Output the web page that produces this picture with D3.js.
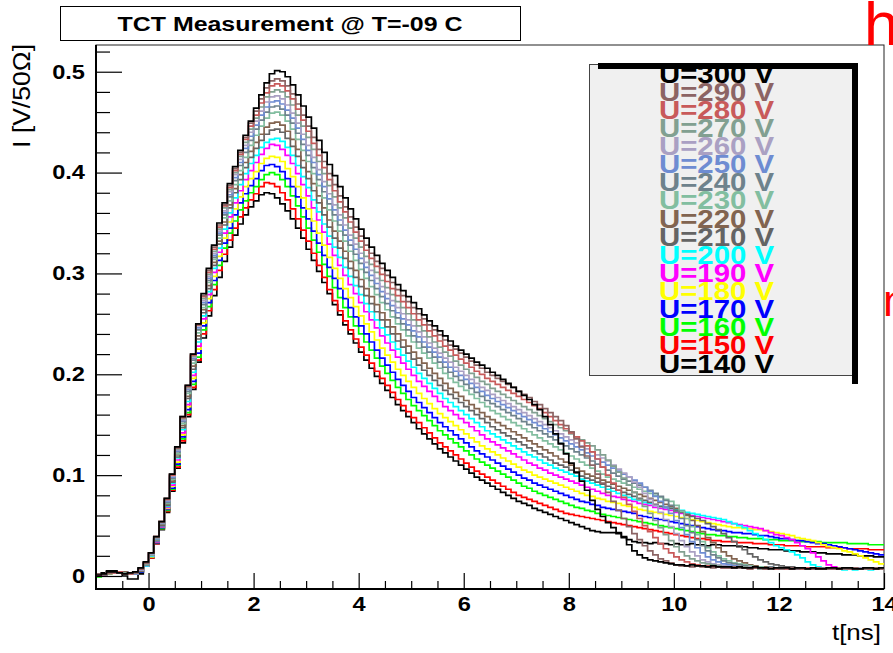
<!DOCTYPE html>
<html><head><meta charset="utf-8">
<script src="https://cdn.jsdelivr.net/npm/d3@7"></script>
<style>body{margin:0;background:#fff}svg{display:block}</style>
</head><body>
<svg id="c" width="893" height="653"></svg>
<script>
// histogram bins: start -1 ns, width 0.1 ns, values in mV
const binStart = -1, binWidth = 0.1, tEnd = 14;
const voltages = [300,290,280,270,260,250,240,230,220,210,200,190,180,170,160,150,140];
const legendLabels = ["U=300 V","U=290 V","U=280 V","U=270 V","U=260 V","U=250 V","U=240 V","U=230 V","U=220 V","U=210 V","U=200 V","U=190 V","U=180 V","U=170 V","U=160 V","U=150 V","U=140 V"];
const colors = ["#000000","#8c6464","#c85a5a","#82a091","#aaa0c3","#6e8cd2","#6e828c","#82bea0","#826450","#646464","#00ffff","#ff00ff","#ffff00","#0000ff","#00ff00","#ff0000","#000000"];
const xTicks = [0,2,4,6,8,10,12,14];
const xMinor = [-0.5,0.5,1,1.5,2.5,3,3.5,4.5,5,5.5,6.5,7,7.5,8.5,9,9.5,10.5,11,11.5,12.5,13,13.5];
const yTicks = [0,0.1,0.2,0.3,0.4,0.5];
const yMinor = [0.02,0.04,0.06,0.08,0.12,0.14,0.16,0.18,0.22,0.24,0.26,0.28,0.32,0.34,0.36,0.38,0.42,0.44,0.46,0.48,0.52];

const u300 = [1,2,4,4,3,2,3,4,8,14,
23,39,54,77,101,128,158,189,220,250,
280,305,328,350,370,389,406,422,437,451,
464,477,489,498,501,500,495,487,477,466,
455,444,432,420,408,397,386,375,364,354,
344,335,326,318,310,303,296,289,283,277,
271,265,259,253,248,243,238,233,228,224,
220,216,212,209,206,202,199,195,191,187,
183,179,175,170,165,158,150,141,131,121,
112,103,94,85,75,66,59,53,48,43,
38,31,25,21,18,16,15,14,13,12,
11,11,10,11,10,10,9,10,9,9,
9,8,9,8,8,9,8,8,7,8,
8,8,7,8,8,7,8,7,7,8,
8,7,8,8,7,7,8,8,7,8];
const u290 = [2,1,3,4,3,2,3,3,7,13,
23,39,54,77,101,127,158,189,220,250,
278,303,326,348,368,387,404,420,435,449,
461,473,484,491,493,491,486,478,468,457,
446,435,423,411,399,388,377,366,356,346,
337,328,320,312,305,298,291,284,278,272,
266,260,255,249,244,239,234,229,225,221,
217,213,209,206,202,199,196,193,190,187,
183,180,177,173,170,166,162,158,154,149,
143,136,128,119,110,101,92,83,74,65,
57,49,42,36,30,25,21,17,15,13,
11,10,10,9,10,9,9,8,9,8,
8,9,8,8,7,8,8,7,8,8,
7,8,8,7,8,7,7,8,7,7,
7,8,7,7,8,7,7,7,8,7];
const u280 = [1,2,3,3,4,2,2,4,7,13,
23,39,54,76,100,127,157,188,219,249,
277,301,324,346,367,385,402,418,433,446,
457,469,479,486,488,486,481,473,463,452,
441,429,417,405,393,382,371,361,351,341,
332,323,315,307,299,292,285,278,272,266,
260,254,249,243,238,233,228,224,219,215,
211,207,203,200,196,193,190,187,184,181,
178,175,172,169,166,162,158,154,150,146,
142,138,134,129,123,116,108,100,92,85,
78,71,64,57,50,44,38,32,27,23,
19,16,14,12,11,10,10,9,9,8,
8,8,9,8,7,8,8,7,8,7,
8,7,7,8,7,8,7,7,7,8,
7,7,8,7,7,7,8,7,7,7];
const u270 = [2,2,3,4,3,3,2,3,7,12,
23,38,54,76,100,126,156,187,218,249,
275,299,322,344,365,383,400,416,430,443,
454,465,475,480,482,480,475,467,457,446,
435,423,411,399,387,376,365,355,345,335,
326,317,309,301,293,286,279,272,266,260,
254,248,243,237,232,227,222,218,213,209,
205,201,197,193,190,186,183,180,177,174,
171,168,165,162,159,156,153,150,147,144,
141,138,135,132,129,125,120,115,109,103,
97,90,83,76,69,62,55,48,41,35,
29,24,20,17,15,13,12,11,10,9,
9,8,8,9,8,8,7,8,8,7,
7,8,7,8,7,7,8,7,7,7,
8,7,7,7,8,7,7,7,7,8];
const u260 = [1,2,3,3,4,3,2,3,6,12,
22,38,53,75,99,125,155,186,217,248,
273,297,320,342,362,381,398,413,427,440,
451,461,470,475,476,473,467,459,449,438,
427,415,403,391,379,368,358,348,338,329,
320,311,303,295,287,280,273,266,260,254,
248,242,237,231,226,221,216,212,207,203,
199,195,191,187,184,180,177,174,171,168,
165,162,159,156,153,150,147,144,141,138,
135,132,129,126,123,120,117,114,110,106,
102,98,93,88,82,76,70,63,56,49,
42,35,29,24,20,16,14,12,11,10,
9,9,8,8,9,8,7,8,8,7,
8,7,7,8,7,7,8,7,7,7,
7,8,7,7,7,8,7,7,8,7];
const u250 = [2,1,3,4,3,3,3,2,6,12,
22,37,53,74,98,124,154,185,216,246,
271,295,318,340,360,378,395,410,424,436,
447,457,465,470,471,468,462,454,444,433,
422,410,398,386,374,363,353,343,333,324,
315,306,298,290,282,275,268,261,255,249,
243,237,232,227,222,217,212,207,203,199,
195,191,187,183,179,176,173,170,167,164,
161,158,155,152,149,146,143,140,137,134,
131,128,125,122,119,116,113,110,107,104,
101,98,95,92,88,84,79,74,68,62,
55,48,41,34,28,23,19,16,14,12,
11,10,9,9,8,8,8,7,8,8,
7,8,7,7,8,7,7,8,7,7,
7,7,8,7,7,8,7,7,7,8];
const u240 = [1,2,2,3,4,3,2,3,6,11,
22,37,52,73,97,123,153,183,214,244,
269,293,316,338,358,376,392,407,420,432,
443,452,460,465,466,463,457,449,439,428,
417,405,393,381,369,358,348,338,328,319,
310,301,293,285,277,270,263,256,250,244,
238,232,227,222,217,212,207,202,198,194,
190,186,182,178,174,171,168,165,162,159,
156,153,150,147,144,141,138,135,132,129,
126,123,120,117,114,111,108,105,102,99,
96,94,92,90,88,85,82,79,75,70,
64,57,50,43,36,30,25,21,18,15,
13,12,11,10,9,9,8,8,9,8,
7,8,8,7,7,8,7,7,8,7,
7,7,7,8,7,7,7,8,7,7];
const u230 = [2,1,3,3,4,3,3,2,6,11,
21,36,52,72,96,121,151,181,211,241,
266,291,314,335,355,372,388,402,415,427,
437,446,454,459,460,457,451,443,433,422,
411,399,387,375,363,352,342,332,322,313,
304,295,287,279,271,264,257,250,244,238,
232,226,221,216,211,206,201,196,192,188,
184,180,176,172,168,164,161,158,155,152,
149,146,143,140,137,134,131,128,125,122,
119,116,113,110,107,104,101,98,96,94,
92,90,88,86,84,82,80,78,76,74,
70,64,57,49,41,34,28,24,20,17,
15,13,12,11,10,9,9,8,8,8,
8,7,8,7,7,8,7,8,7,7,
7,8,7,7,7,7,8,7,7,7];
const u220 = [1,2,3,3,3,4,2,3,5,11,
21,36,51,71,94,120,149,178,208,238,
264,288,311,332,351,368,384,398,410,421,
430,438,445,449,450,447,441,433,423,412,
401,389,377,365,353,342,332,322,312,303,
294,285,277,269,261,254,247,240,234,228,
222,216,211,206,201,196,191,186,182,178,
174,170,166,162,158,155,152,149,146,143,
140,137,134,131,128,125,122,119,116,113,
110,107,104,101,99,97,95,93,91,89,
87,85,83,81,79,77,75,73,71,69,
67,64,60,55,50,44,38,33,28,24,
20,17,15,13,11,10,9,9,8,8,
8,7,8,7,8,7,7,8,7,7,
7,7,8,7,7,7,8,7,7,7];
const u210 = [2,2,3,3,4,3,3,3,5,11,
21,35,50,70,93,118,147,176,205,235,
261,285,308,329,348,365,380,393,405,415,
424,432,438,442,443,440,434,426,416,405,
394,382,370,358,346,335,325,315,305,296,
287,278,270,262,254,247,240,233,227,221,
215,209,204,199,194,189,184,180,176,172,
168,164,160,156,152,148,145,142,139,136,
133,130,127,124,121,118,115,112,110,108,
105,102,99,97,95,93,91,89,87,85,
83,81,79,77,75,73,71,69,68,67,
65,63,61,59,57,55,52,49,46,42,
38,34,30,26,22,19,16,14,12,11,
10,9,9,8,8,8,7,8,8,7,
7,8,7,7,7,8,7,7,7,8];
const u200 = [1,2,3,3,4,3,2,3,5,10,
20,35,50,69,92,117,145,173,202,232,
258,282,305,325,344,360,375,388,399,409,
417,425,430,433,434,431,425,417,407,396,
385,373,361,349,337,326,316,306,297,288,
279,270,262,254,246,239,232,225,219,213,
207,201,196,191,186,181,176,172,168,164,
160,156,152,148,144,141,138,135,132,129,
126,123,120,118,115,112,110,107,105,103,
101,99,96,94,92,90,88,86,84,82,
80,78,76,75,73,72,70,69,68,67,
66,65,63,62,61,60,59,58,57,56,
54,52,50,48,45,42,39,36,33,30,
28,26,24,21,18,14,11,9,8,7,
7,7,6,7,6,7,7,6,7,7];
const u190 = [2,1,3,4,3,3,3,2,5,10,
20,34,49,68,90,115,142,170,199,228,
255,279,301,321,340,356,370,382,393,402,
410,418,424,428,427,423,417,409,399,388,
377,365,353,341,329,318,308,298,289,280,
271,262,254,246,238,231,224,217,211,205,
199,193,188,183,178,173,168,164,160,156,
152,148,144,140,136,133,130,127,124,121,
118,115,112,110,107,105,102,100,98,96,
94,92,90,88,86,84,82,80,79,78,
76,75,74,72,71,70,68,67,66,65,
63,62,61,60,59,58,57,56,55,54,
53,52,51,50,49,48,47,45,43,41,
40,38,36,33,30,27,23,19,15,11,
9,8,8,7,8,7,8,7,7,8];
const u180 = [1,2,2,3,4,3,3,3,5,10,
19,34,49,67,89,113,140,168,196,225,
251,275,297,317,335,351,364,376,386,394,
401,409,414,416,415,411,404,396,386,375,
364,352,340,328,316,305,295,285,276,267,
258,250,242,234,226,219,212,205,199,193,
187,181,176,171,166,161,157,153,149,145,
141,137,133,129,126,123,120,117,114,111,
108,105,103,100,98,96,94,92,90,88,
86,84,82,80,79,77,76,74,73,72,
70,69,68,66,65,64,63,62,61,60,
59,58,57,56,55,54,53,52,51,50,
49,48,48,47,47,46,46,45,44,43,
42,41,40,38,37,36,35,33,31,29,
28,27,25,24,22,20,18,16,14,12];
const u170 = [2,2,3,3,3,4,2,3,4,10,
19,33,48,66,87,111,138,165,193,221,
248,271,293,313,330,345,358,370,379,387,
394,402,407,408,406,401,394,386,376,365,
354,342,330,318,306,295,285,275,266,257,
248,240,232,224,216,209,202,195,189,183,
177,172,167,162,157,152,148,144,140,136,
132,128,124,121,118,115,112,109,106,103,
100,97,95,92,90,88,86,84,82,80,
78,76,74,73,71,70,68,67,66,65,
64,63,62,60,59,58,57,56,55,54,
53,52,51,50,49,48,47,46,45,45,
44,43,43,42,42,41,40,40,39,38,
37,37,36,35,35,34,33,32,32,31,
30,29,28,27,26,25,24,23,22,21];
const u160 = [-1,1,3,3,4,3,3,2,4,10,
19,33,47,65,86,110,136,162,190,217,
244,267,289,308,325,340,352,363,372,380,
386,393,398,400,398,393,386,377,367,356,
345,333,321,309,297,286,276,266,257,248,
240,232,224,216,208,201,194,187,181,175,
169,164,159,154,149,144,140,136,132,128,
124,120,116,113,110,107,104,101,98,95,
92,89,87,84,82,80,78,76,74,72,
70,68,67,65,64,62,61,60,59,58,
57,56,55,54,53,52,51,50,49,48,
47,46,45,44,43,42,41,41,40,40,
39,39,38,38,37,37,37,36,36,36,
35,35,35,35,34,34,34,34,33,33,
33,33,33,32,32,32,32,31,31,31];
const u150 = [2,1,3,3,4,3,2,3,4,10,
18,32,47,64,85,108,134,160,187,214,
240,263,284,303,319,333,345,356,365,373,
379,386,390,389,386,380,373,364,354,343,
332,320,308,296,284,273,263,253,244,235,
227,219,211,203,196,189,182,175,169,163,
157,152,147,142,137,132,128,124,120,116,
112,108,104,101,98,95,92,89,86,83,
80,78,76,74,72,70,68,66,64,62,
61,60,59,58,57,56,55,54,53,52,
51,50,49,48,47,46,45,44,43,42,
41,40,39,38,37,37,36,35,35,34,
34,34,33,33,33,32,32,32,31,31,
31,30,30,30,30,29,29,29,29,28,
28,28,28,27,27,27,27,26,26,26];
const u140 = [2,3,5,5,4,0,-3,-3,2,10,
18,32,46,63,84,107,132,158,185,212,
236,258,278,296,312,326,338,349,358,366,
372,378,380,379,375,369,362,354,345,335,
324,313,302,291,280,269,259,249,240,231,
222,214,206,198,191,184,177,170,164,158,
152,146,141,136,131,126,122,118,114,110,
106,102,98,95,92,89,86,83,80,77,
74,72,70,67,65,63,61,59,57,55,
53,51,49,47,45,44,43,43,43,42,
39,36,34,33,33,32,33,32,32,31,
32,31,31,32,31,31,30,31,31,30,
30,30,29,29,28,28,27,27,26,26,
26,25,25,25,24,24,24,23,23,22,
22,22,21,21,21,20,20,20,19,19];

const seriesData = [u300,u290,u280,u270,u260,u250,u240,u230,u220,u210,u200,u190,u180,u170,u160,u150,u140];

const FONT = "'Liberation Sans', Arial, Helvetica, sans-serif";
const SX = 1.18; // horizontal stretch of the original picture
const svg = d3.select("#c");

function stretch(sel, f){
  sel.each(function(){
    const w = this.getComputedTextLength();
    d3.select(this).attr("textLength", w*f).attr("lengthAdjust","spacingAndGlyphs");
  });
}

const x = d3.scaleLinear().domain([-1, 14]).range([96, 884]);
const y = d3.scaleLinear().domain([-0.0129, 0.5265]).range([589, 45]);

// frame
svg.append("rect").attr("x",96).attr("y",45).attr("width",788).attr("height",544)
  .attr("fill","#fff").attr("stroke","#222").attr("stroke-width",1);

svg.append("defs").append("clipPath").attr("id","pc").append("rect")
  .attr("x",96).attr("y",45).attr("width",788).attr("height",544);

// curves
const line = d3.line().x(d=>x(d[0])).y(d=>y(d[1])).curve(d3.curveStepAfter);
const gC = svg.append("g").attr("clip-path","url(#pc)");
const order = d3.range(seriesData.length).reverse();
order.forEach(k=>{
  const arr = seriesData[k];
  const pts = arr.map((v,i)=>[binStart + i*binWidth, v/1000]);
  pts.push([tEnd, arr[arr.length-1]/1000]);
  gC.append("path").attr("d", line(pts)).attr("fill","none")
    .attr("stroke", colors[k]).attr("stroke-width", 1.7).attr("stroke-linejoin","miter");
});

// axes
function styleAxis(g){
  g.select(".domain").remove();
  g.selectAll(".tick line").attr("stroke","#000").attr("stroke-width",1.2);
  g.selectAll("text").attr("font-family",FONT).attr("font-size",20).attr("font-weight","bold").attr("fill","#000");
}
const fmtY = d => d===0 ? "0" : d3.format(".1f")(d);
const gy = svg.append("g").attr("transform","translate(96,0)")
  .call(d3.axisLeft(y).tickValues(yTicks).tickSize(-26).tickPadding(11).tickFormat(fmtY));
styleAxis(gy); stretch(gy.selectAll("text"), SX);
const gym = svg.append("g").attr("transform","translate(96,0)")
  .call(d3.axisLeft(y).tickValues(yMinor).tickSize(-14).tickFormat(""));
styleAxis(gym);
const gx = svg.append("g").attr("transform","translate(0,589)")
  .call(d3.axisBottom(x).tickValues(xTicks).tickSize(-16).tickPadding(8).tickFormat(d3.format("d")));
styleAxis(gx); stretch(gx.selectAll("text"), SX);
const gxm = svg.append("g").attr("transform","translate(0,589)")
  .call(d3.axisBottom(x).tickValues(xMinor).tickSize(-8).tickFormat(""));
styleAxis(gxm);

svg.append("line").attr("x1",96).attr("x2",96).attr("y1",45).attr("y2",590).attr("stroke","#000").attr("stroke-width",2);
svg.append("line").attr("x1",95).attr("x2",884).attr("y1",589).attr("y2",589).attr("stroke","#000").attr("stroke-width",2);

// axis titles
svg.append("text").attr("transform","translate(30,44) rotate(-90)").attr("text-anchor","end")
  .attr("font-family",FONT).attr("font-size",23).attr("fill","#000")
  .attr("textLength",104).attr("lengthAdjust","spacingAndGlyphs").text("I [V/50\u03A9]");
const xt = svg.append("text").attr("x",881).attr("y",640).attr("text-anchor","end")
  .attr("font-family",FONT).attr("font-size",22).attr("fill","#000").text("t[ns]");
stretch(xt, SX);

// title box
svg.append("rect").attr("x",60.5).attr("y",6.5).attr("width",460).attr("height",34)
  .attr("fill","#fff").attr("stroke","#000").attr("stroke-width",1);
svg.append("text").attr("x",290).attr("y",31).attr("text-anchor","middle")
  .attr("font-family",FONT).attr("font-size",20).attr("font-weight","bold").attr("fill","#000")
  .attr("textLength",345).attr("lengthAdjust","spacingAndGlyphs")
  .text("TCT Measurement @ T=-09 C");

// legend
const lg = svg.append("g");
lg.append("rect").attr("x",589.5).attr("y",64.5).attr("width",263).attr("height",311)
  .attr("fill","#f0f0f0").attr("stroke","#444").attr("stroke-width",1);
legendLabels.forEach((lab,k)=>{
  const t = lg.append("text").attr("x",716.5).attr("y",82.5 + k*18.125).attr("text-anchor","middle")
    .attr("font-family",FONT).attr("font-size",26).attr("font-weight","bold")
    .attr("fill",colors[k]).text(lab);
  stretch(t, 1.13);
});
lg.append("rect").attr("x",598).attr("y",63).attr("width",255).attr("height",6).attr("fill","#000");
lg.append("rect").attr("x",852).attr("y",63).attr("width",6).attr("height",321).attr("fill","#000");

// stray red letters at the right edge
svg.append("text").attr("x",864).attr("y",45).attr("font-family",FONT).attr("font-size",62)
  .attr("fill","#ff0000").text("h");
svg.append("text").attr("x",883).attr("y",316).attr("font-family",FONT).attr("font-size",44)
  .attr("fill","#ff0000").text("n");
</script>
</body></html>
